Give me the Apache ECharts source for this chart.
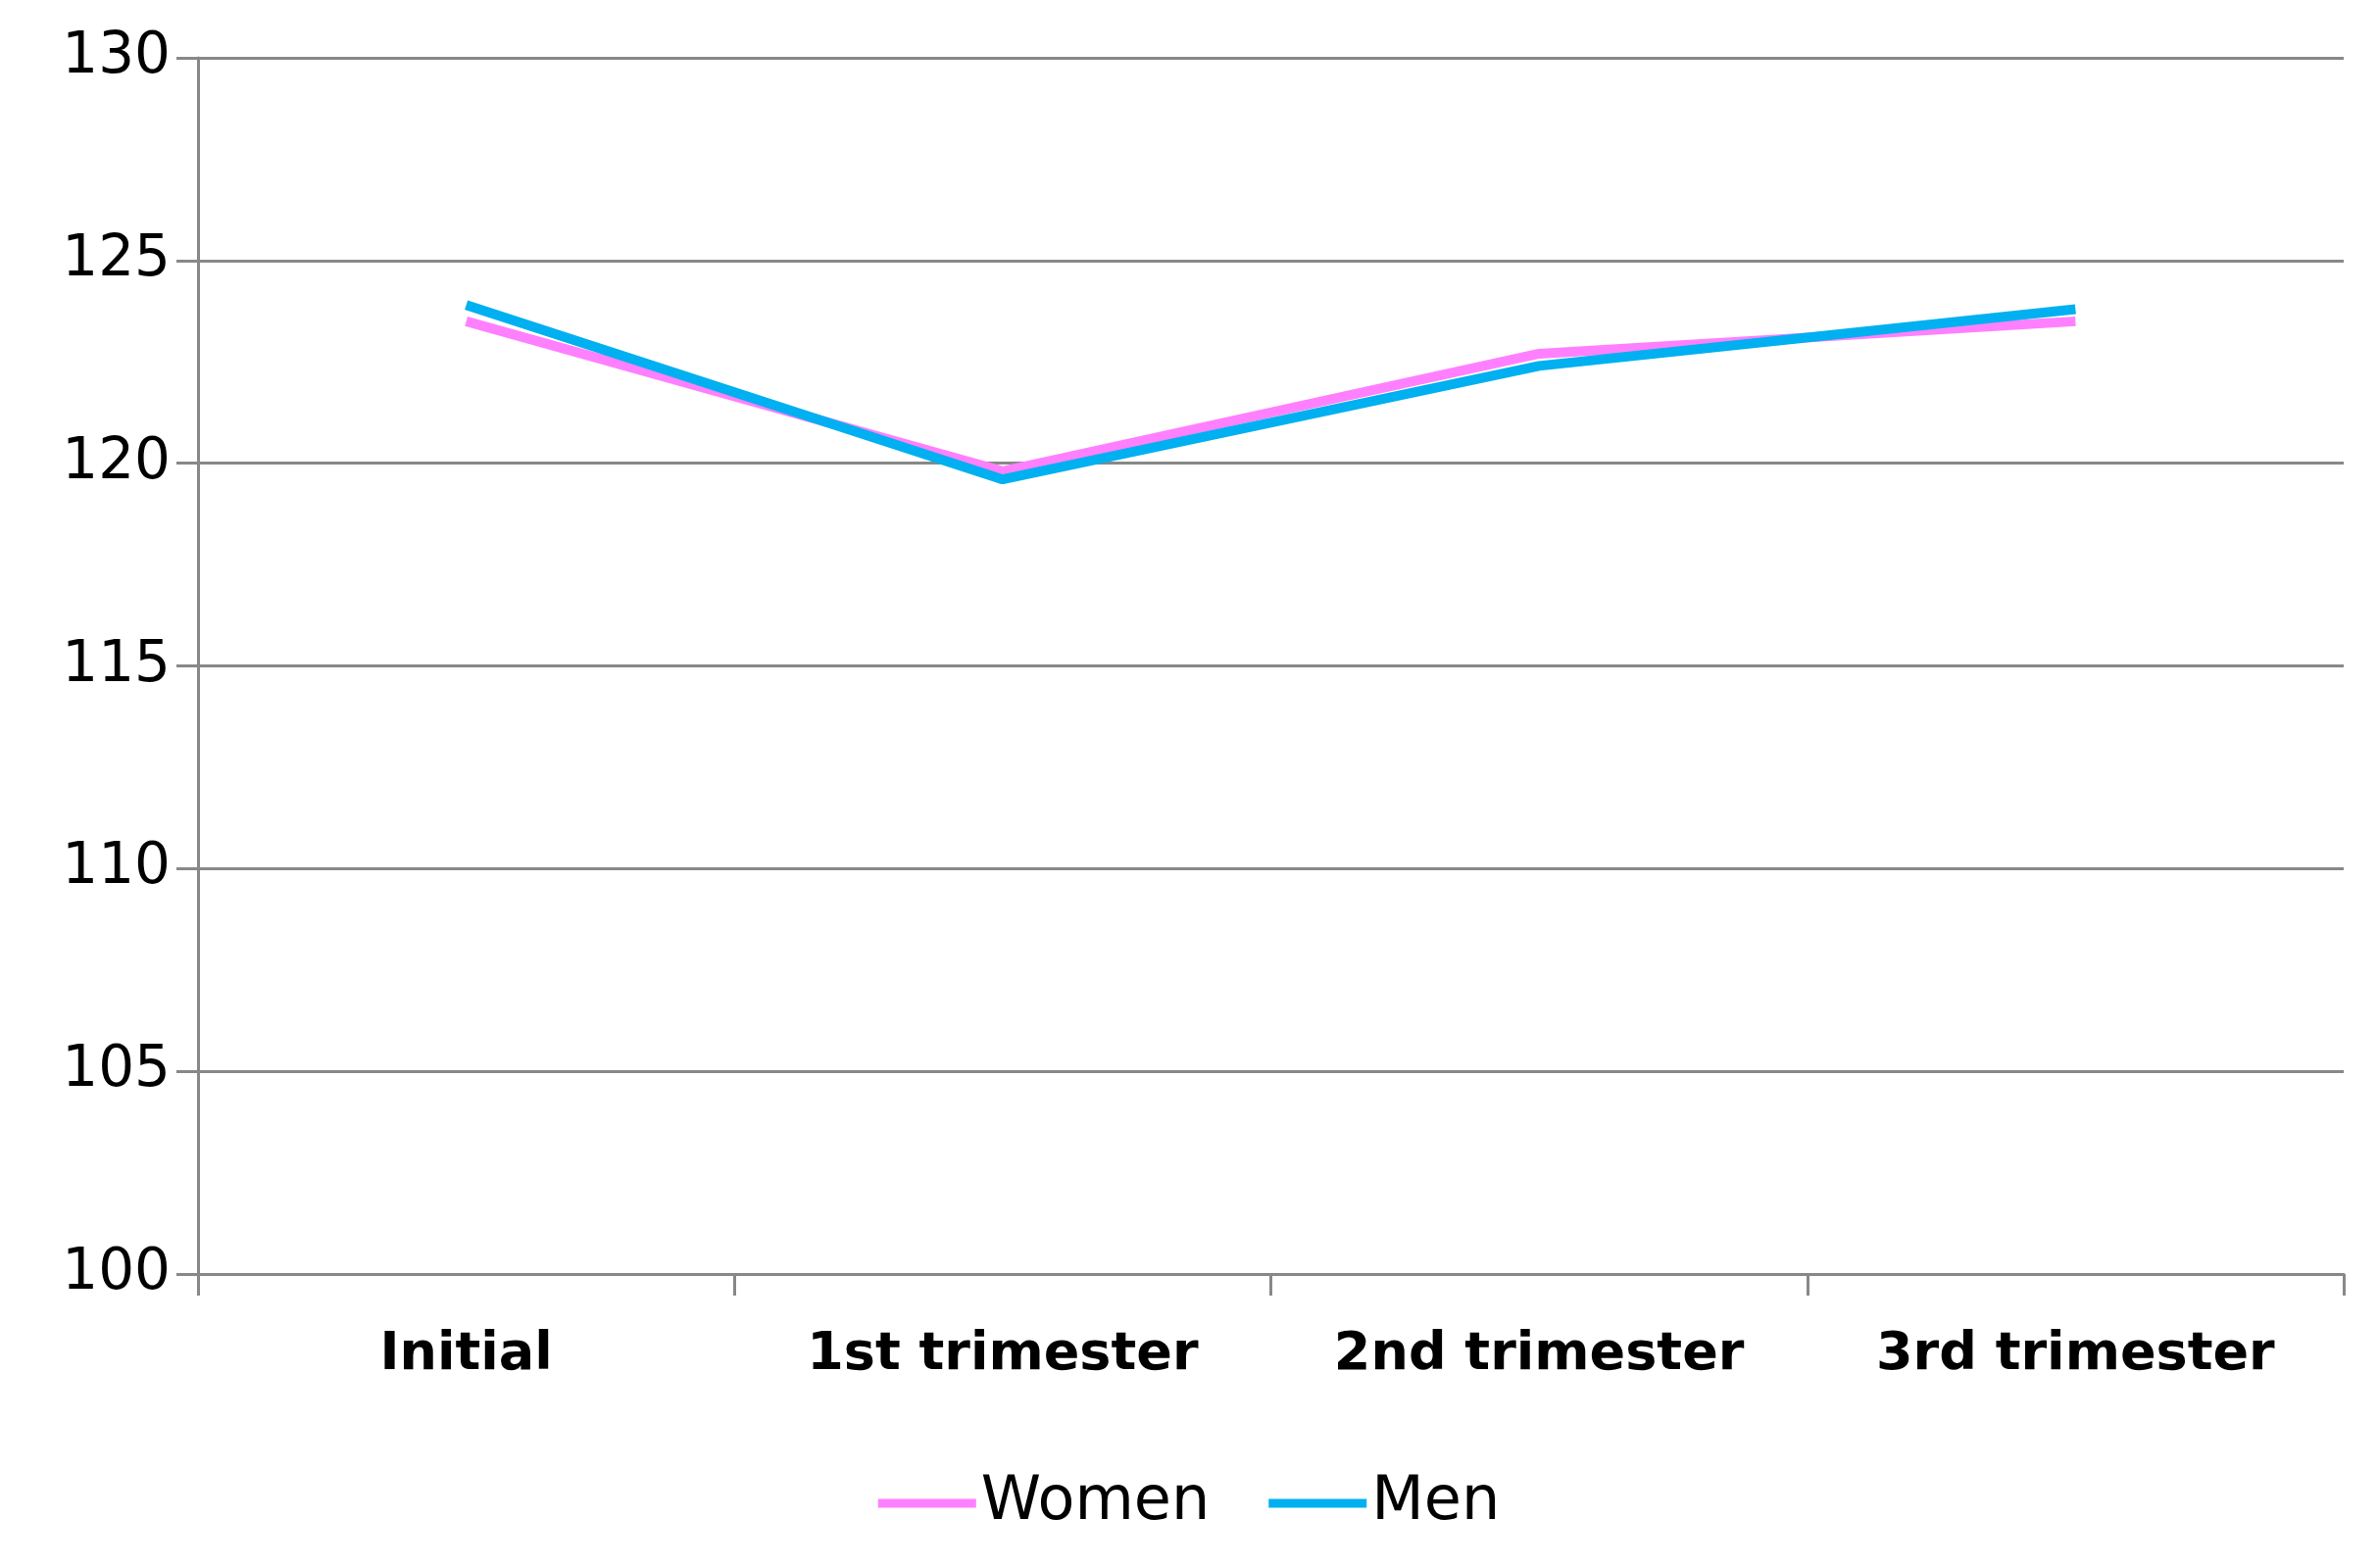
<!DOCTYPE html>
<html><head><meta charset="utf-8">
<script src="https://cdn.jsdelivr.net/npm/echarts@6/dist/echarts.min.js"></script>
<style>html,body{margin:0;padding:0;background:#fff}#c{width:2426px;height:1600px}</style>
</head><body><div id="c"></div>
<script>
const categories = ['Initial','1st trimester','2nd trimester','3rd trimester'];
const women = [123.5, 119.8, 122.7, 123.5];
const men = [123.9, 119.6, 122.4, 123.8];
const yTicks = {min:100, max:130, interval:5};
const chart = echarts.init(document.getElementById('c'));
chart.setOption({
  animation:false,
  grid:{left:202, right:35, top:59, bottom:300},
  legend:{bottom:30, left:'center', itemWidth:100, itemHeight:9, itemGap:60,
    textStyle:{fontFamily:'DejaVu Sans', fontSize:62, color:'#000'},
    data:[{name:'Women',icon:'rect'},{name:'Men',icon:'rect'}]},
  xAxis:{type:'category', data:categories, boundaryGap:true,
    axisLine:{lineStyle:{color:'#888', width:3}},
    axisTick:{show:true, length:22, lineStyle:{color:'#888', width:3}},
    axisLabel:{fontFamily:'DejaVu Sans', fontWeight:'bold', fontSize:54, color:'#000', margin:56}},
  yAxis:{type:'value', min:yTicks.min, max:yTicks.max, interval:yTicks.interval,
    axisLine:{show:true, lineStyle:{color:'#888', width:3}},
    axisTick:{show:true, length:22, lineStyle:{color:'#888', width:3}},
    splitLine:{lineStyle:{color:'#888', width:3}},
    axisLabel:{fontFamily:'DejaVu Sans', fontSize:58, color:'#000', margin:28}},
  series:[
    {name:'Women', type:'line', data:women, symbol:'none', color:'#FF80FF', lineStyle:{width:10, color:'#FF80FF'}},
    {name:'Men', type:'line', data:men, symbol:'none', color:'#00B0F0', lineStyle:{width:10, color:'#00B0F0'}}
  ]
});
</script></body></html>
